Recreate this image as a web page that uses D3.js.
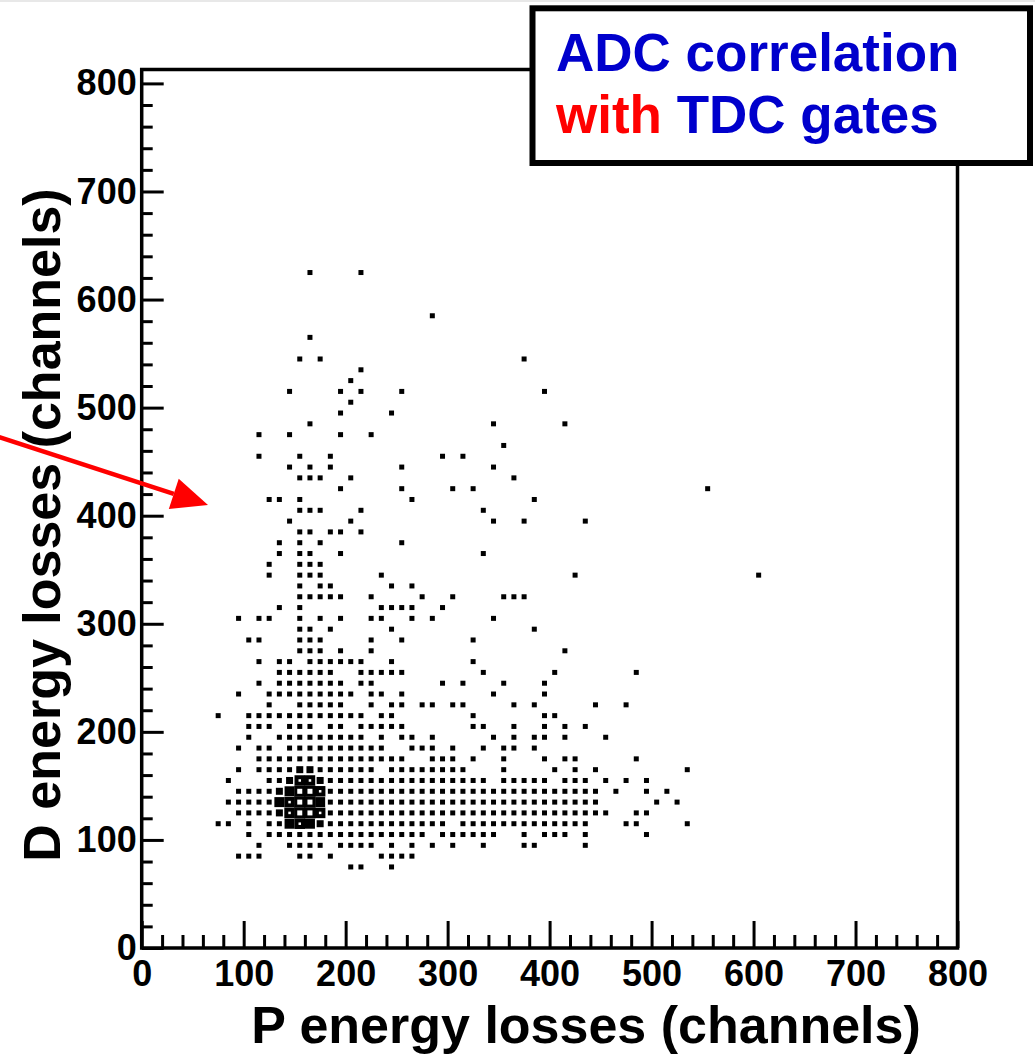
<!DOCTYPE html>
<html lang="en">
<head>
<meta charset="UTF-8">
<title>ADC correlation with TDC gates</title>
<script src="https://cdn.jsdelivr.net/npm/d3@7"></script>
<style>
  body { margin: 0; background: #fff; }
  svg { display: block; font-family: "Liberation Sans", Arial, sans-serif; font-weight: bold; }
</style>
</head>
<body>
<svg id="chart" width="1035" height="1055"></svg>
<script>
  // axis tick labels (channels)
  var majorTicks = [0, 100, 200, 300, 400, 500, 600, 700, 800];

  // D energy bins (bin centres, channels), top to bottom
  var dRows = [625, 585, 565, 545, 535, 525, 515, 505, 495, 485, 475, 465, 455, 445, 435, 425,
               415, 405, 395, 385, 375, 365, 355, 345, 335, 325, 315, 305, 295, 285, 275, 265,
               255, 245, 235, 225, 215, 205, 195, 185, 175, 165, 155, 145, 135, 125, 115, 105,
               95, 85, 75];

  // filled P energy bins for every D row above (bin centres, channels)
  var pHits = [
    [165, 215],
    [285],
    [165],
    [155, 175, 375],
    [215],
    [205],
    [145, 195, 215, 255, 395],
    [205],
    [195, 245],
    [165, 345, 415],
    [115, 145, 195, 225],
    [355],
    [115, 155, 185, 295, 315],
    [145, 165, 185, 255, 345],
    [155, 165, 175, 205, 365],
    [195, 255, 305, 325, 555],
    [125, 135, 155, 265, 385],
    [155, 165, 175, 215, 335],
    [145, 205, 345, 375, 435],
    [155, 165, 185, 195, 215],
    [135, 155, 175, 255],
    [135, 155, 165, 195, 335],
    [125, 155, 165, 175],
    [125, 155, 165, 175, 235, 425, 605],
    [155, 175, 185, 245, 265],
    [155, 165, 175, 185, 195, 225, 275, 305, 355, 365, 375],
    [135, 155, 235, 245, 255, 265, 295],
    [95, 115, 125, 155, 175, 195, 225, 235, 265, 285, 345],
    [155, 165, 185, 245, 385],
    [105, 115, 155, 165, 175, 225, 255, 325],
    [155, 165, 175, 195, 225, 415],
    [115, 135, 145, 165, 175, 185, 195, 205, 215, 245, 325],
    [135, 145, 155, 165, 175, 185, 215, 225, 235, 245, 255, 335, 405, 485],
    [115, 135, 145, 155, 165, 175, 185, 195, 215, 225, 295, 315, 355, 395],
    [95, 125, 135, 145, 155, 165, 175, 185, 195, 205, 225, 235, 255, 345, 395],
    [125, 155, 165, 175, 185, 195, 225, 245, 255, 275, 285, 305, 315, 365, 385, 445, 475],
    [75, 105, 115, 125, 135, 145, 155, 165, 175, 185, 195, 205, 215, 235, 245, 325, 395, 405],
    [105, 115, 125, 145, 155, 165, 185, 195, 215, 225, 235, 245, 255, 325, 335, 365, 395, 415, 435],
    [105, 135, 145, 155, 165, 175, 185, 195, 205, 215, 235, 255, 265, 285, 345, 365, 385, 395, 415, 455],
    [95, 115, 125, 145, 155, 165, 175, 185, 195, 205, 215, 225, 235, 265, 275, 285, 305, 335, 355, 365, 385],
    [115, 125, 135, 145, 155, 165, 175, 185, 195, 205, 215, 225, 235, 245, 255, 285, 295, 305, 325, 355,
     395, 415, 425, 485],
    [95, 115, 125, 135, 145, 155, 165, 175, 185, 195, 205, 215, 225, 245, 255, 265, 275, 285, 295, 305,
     315, 355, 405, 425, 445, 535],
    [85, 125, 135, 145, 155, 165, 175, 185, 195, 205, 215, 225, 235, 245, 255, 265, 275, 285, 295, 305,
     315, 325, 335, 355, 365, 375, 385, 395, 415, 425, 435, 455, 475, 495],
    [95, 105, 115, 125, 135, 145, 155, 165, 175, 185, 195, 205, 215, 225, 235, 245, 255, 265, 275, 285,
     295, 305, 315, 325, 335, 345, 355, 365, 375, 385, 395, 405, 415, 425, 435, 445, 465, 495, 515],
    [85, 95, 105, 115, 125, 135, 145, 155, 165, 175, 185, 195, 205, 215, 225, 235, 245, 255, 265, 275,
     285, 295, 305, 315, 325, 335, 345, 355, 365, 375, 385, 395, 405, 415, 425, 435, 445, 505, 525],
    [95, 105, 115, 125, 135, 145, 155, 165, 175, 185, 195, 205, 215, 225, 235, 245, 255, 265, 275, 285,
     295, 305, 315, 325, 335, 345, 355, 365, 375, 385, 395, 405, 415, 425, 435, 445, 455, 485, 495],
    [75, 85, 105, 125, 135, 145, 155, 165, 175, 185, 195, 205, 215, 225, 235, 245, 255, 265, 275, 285,
     295, 315, 325, 335, 345, 355, 365, 375, 385, 395, 405, 415, 425, 435, 475, 485, 535],
    [105, 125, 135, 145, 155, 165, 175, 185, 195, 205, 215, 225, 235, 245, 255, 265, 275, 295, 305, 315,
     325, 335, 345, 375, 395, 405, 415, 435, 495],
    [115, 145, 155, 165, 175, 195, 205, 215, 225, 245, 265, 285, 305, 335, 375, 385, 435],
    [95, 105, 115, 155, 165, 185, 235, 245, 255, 265],
    [205, 215, 245]
  ];

  // box level in the peak region: [P, D, level]; every other bin is level 1
  var peakBoxes = [
    [155, 165, 2], [165, 165, 2],
    [145, 155, 2], [155, 155, 4], [165, 155, 4], [175, 155, 2],
    [135, 145, 2], [145, 145, 3], [155, 145, 5], [165, 145, 5], [175, 145, 4],
    [135, 135, 3], [145, 135, 4], [155, 135, 5], [165, 135, 5], [175, 135, 3],
    [135, 125, 2], [145, 125, 4], [155, 125, 5], [165, 125, 5], [175, 125, 4],
    [145, 115, 3], [155, 115, 4], [165, 115, 3], [175, 115, 2]
  ];

  // box side and white hole side (px) for each level
  var boxSize = [0, 5, 7, 10, 10.5, 11];
  var holeSize = [0, 0, 0, 0, 2.5, 5];

  var svg = d3.select("#chart");

  // faint line along the top edge of the picture
  svg.append("rect").attr("x", 0).attr("y", 0).attr("width", 1035).attr("height", 2).attr("fill", "#e8e8e8");

  var x = d3.scaleLinear().domain([0, 800]).range([141.7, 957.5]);
  var y = d3.scaleLinear().domain([0, 800]).range([948, 83.4]);
  var yTop = y.invert(69.5);

  var minorTicks = d3.range(0, 801, 20).filter(function(v) { return v % 100 != 0; });

  // points
  var level = {};
  peakBoxes.forEach(function(b) { level[b[0] + "_" + b[1]] = b[2]; });
  var cells = [];
  dRows.forEach(function(d, i) {
    pHits[i].forEach(function(p) {
      cells.push({p: p, d: d, lv: level[p + "_" + d] || 1});
    });
  });

  var g = svg.append("g");
  g.selectAll("rect.box").data(cells).enter().append("rect")
    .attr("class", "box")
    .attr("x", function(c) { return x(c.p) - boxSize[c.lv] / 2; })
    .attr("y", function(c) { return y(c.d) - boxSize[c.lv] / 2; })
    .attr("width", function(c) { return boxSize[c.lv]; })
    .attr("height", function(c) { return boxSize[c.lv]; })
    .attr("fill", "#000");
  // hollow centres of the biggest boxes
  g.selectAll("rect.hole").data(cells.filter(function(c) { return holeSize[c.lv] > 0; })).enter().append("rect")
    .attr("class", "hole")
    .attr("x", function(c) { return x(c.p) - holeSize[c.lv] / 2; })
    .attr("y", function(c) { return y(c.d) - holeSize[c.lv] / 2; })
    .attr("width", function(c) { return holeSize[c.lv]; })
    .attr("height", function(c) { return holeSize[c.lv]; })
    .attr("fill", "#fff");

  // axes (ticks point inside)
  function styleAxis(sel) {
    sel.select(".domain").remove();
    sel.selectAll("line").attr("stroke", "#000").attr("stroke-width", 3);
    sel.selectAll("text").attr("fill", "#000").style("font-size", "36px").style("font-weight", "bold")
      .style("font-family", '"Liberation Sans", Arial, sans-serif');
  }

  svg.append("g").attr("transform", "translate(" + x(0) + ",0)")
    .call(d3.axisLeft(y).tickValues(minorTicks).tickSize(-11).tickFormat(""))
    .call(styleAxis);
  svg.append("g").attr("transform", "translate(" + x(0) + ",0)")
    .call(d3.axisLeft(y).tickValues(majorTicks).tickSize(-22).tickPadding(5))
    .call(styleAxis);
  svg.append("g").attr("transform", "translate(0," + y(0) + ")")
    .call(d3.axisBottom(x).tickValues(minorTicks).tickSize(-13).tickFormat(""))
    .call(styleAxis);
  svg.append("g").attr("transform", "translate(0," + y(0) + ")")
    .call(d3.axisBottom(x).tickValues(majorTicks).tickSize(-27).tickPadding(12))
    .call(styleAxis);

  // frame
  svg.append("path")
    .attr("d", "M" + x(0) + "," + y(yTop) + "H" + x(800) + "V" + y(0) + "H" + x(0) + "Z")
    .attr("fill", "none").attr("stroke", "#000").attr("stroke-width", 3.5);

  // axis titles
  svg.append("text").attr("x", 586).attr("y", 1043).attr("text-anchor", "middle")
    .style("font-size", "52px").text("P energy losses (channels)");
  svg.append("text").attr("transform", "translate(60,525) rotate(-90)").attr("text-anchor", "middle")
    .style("font-size", "52px").text("D energy losses (channels)");

  // label box
  svg.append("rect").attr("x", 532.5).attr("y", 8.3).attr("width", 497.5).attr("height", 154.7)
    .attr("fill", "#fff").attr("stroke", "#000").attr("stroke-width", 6);
  svg.append("text").attr("x", 556).attr("y", 71).attr("fill", "#0000cc")
    .style("font-size", "53px").text("ADC correlation");
  var line2 = svg.append("text").attr("x", 556).attr("y", 133).style("font-size", "53px");
  line2.append("tspan").attr("fill", "#ff0000").text("with");
  line2.append("tspan").attr("fill", "#0000cc").text(" TDC gates");

  // red arrow
  var tip = [208, 505], dir = [0.9508, 0.3096], headLen = 36, headHalf = 16;
  var base = [tip[0] - headLen * dir[0], tip[1] - headLen * dir[1]];
  svg.append("line").attr("x1", -10).attr("y1", tip[1] - (tip[0] + 10) * dir[1] / dir[0])
    .attr("x2", base[0]).attr("y2", base[1])
    .attr("stroke", "#ff0000").attr("stroke-width", 4.5);
  svg.append("path")
    .attr("d", "M" + tip + "L" + [base[0] - headHalf * dir[1], base[1] + headHalf * dir[0]] +
               "L" + [base[0] + headHalf * dir[1], base[1] - headHalf * dir[0]] + "Z")
    .attr("fill", "#ff0000");
</script>
</body>
</html>
